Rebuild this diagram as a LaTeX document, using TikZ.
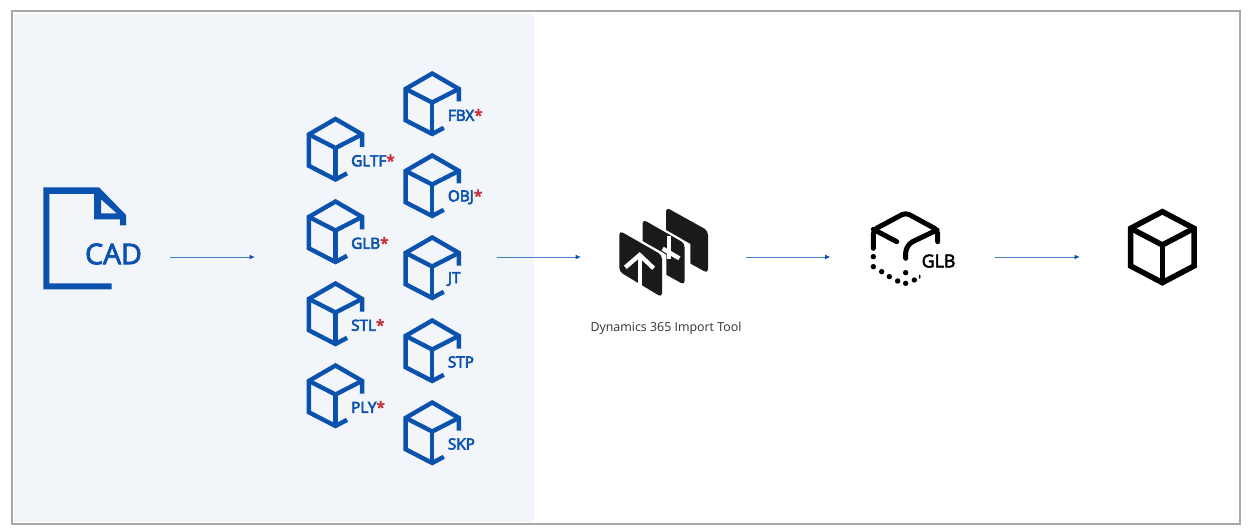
\documentclass[tikz,border=0pt]{standalone}
\usepackage{fontspec}
\setmainfont{Open Sans}
\newfontfamily\semib[FakeBold=4]{Open Sans}
\newfontfamily\semic[FakeBold=3]{Open Sans}
\definecolor{msblue}{HTML}{0A52AE}
\definecolor{starred}{HTML}{C8323C}
\definecolor{panelbg}{HTML}{F2F6FB}
\definecolor{framegray}{HTML}{AAA6A6}
\definecolor{icondark}{HTML}{1A1A1A}
\usetikzlibrary{arrows.meta}
\tikzset{
  flow/.style={draw=msblue!75!white,line width=1pt,-{Latex[length=5.5pt,width=5pt,fill=msblue,color=msblue]}},
  fmt/.style={anchor=west,inner sep=0pt,text=msblue,font=\semib\fontsize{15.3}{15.3}\selectfont},
  pics/box3d/.style={code={
    \draw[msblue,line width=4.4pt,line join=miter]
      (11.6,54.3)--(0,60.5)--(-26.6,46.8)--(-26.6,15.4)--(0,0)--(26.6,15.4)--(26.6,28);
    \draw[msblue,line width=4.4pt,line join=miter]
      (-26.6,15.4)--(0,29)--(26.6,15.4);
    \draw[msblue,line width=4.4pt] (0,29)--(0,60);
  }},
}
\begin{document}
\begin{tikzpicture}[x=1pt,y=-1pt]
\useasboundingbox (0,0) rectangle (1249,529);
\fill[white] (0,0) rectangle (1249,529);
\fill[panelbg] (14,14) rectangle (534,522);
\draw[framegray,line width=2pt] (12,11) rectangle (1240,524);

% CAD document
\fill[msblue,even odd rule]
  (43.3,187.3)--(99,187.3)--(126,215)--(126,225.5)--(120,225.5)--(120,219.3)--(94,219.3)--(94,194)
  --(49.3,194)--(49.3,283.3)--(111.7,283.3)--(111.7,289.3)--(43.3,289.3)--cycle
  (101,199.3)--(101,213.3)--(116.7,213.3)--cycle;
\node[inner sep=0pt,text=msblue,font=\semic\fontsize{28.5}{28.5}\selectfont] (cad) at (113.5,254) {CAD};

% format cubes
\foreach \nm/\cx/\ty/\lab/\st in {
  fbx/432.2/73.5/FBX/1, obj/432.2/155.5/OBJ/1, jt/432.2/237.5/JT/0, stp/432.2/320.5/STP/0, skp/432.2/402.5/SKP/0,
  gltf/335.5/119/GLTF/1, glb/335.5/201.5/GLB/1, stl/335.5/283.5/STL/1, ply/335.5/365.5/PLY/1}{
  \pic at (\cx,\ty) {box3d};
  \node[fmt] (\nm) at (\cx+15.5,\ty+41.5) {\lab\ifnum\st=1 \textcolor{starred}{*}\fi};
}

% import tool icon
\begin{scope}[shift={(612,200)},x=0.3333pt,y=-0.3333pt]
  \path[fill=icondark,rounded corners=4pt] (162,22)--(288,92)--(288,220)--(162,150)--cycle;
  \fill[white] (85,46)--(235,132)--(235,275)--(85,195)--cycle;
  \path[fill=icondark,rounded corners=4pt] (92,58)--(218,130)--(218,255)--(92,185)--cycle;
  \draw[white,line width=4.3pt] (172,108)--(172,178);
  \draw[white,line width=4.3pt] (152,146)--(202,175);
  \fill[white] (15,80)--(163,164)--(163,305)--(15,225)--cycle;
  \path[fill=icondark,rounded corners=4pt] (22,92)--(150,165)--(150,292)--(22,215)--cycle;
  \draw[white,line width=4.3pt] (84,172)--(84,272);
  \draw[white,line width=4.3pt,line join=miter] (40,202)--(83,165)--(125,205);
\end{scope}
\node[inner sep=0pt,text=black!80,font=\fontsize{12.4}{12.4}\selectfont] (tool) at (666,328) {Dynamics 365 Import Tool};

% GLB icon
\begin{scope}[shift={(855,200)},x=0.3333pt,y=-0.3333pt]
  \draw[black,line width=5pt,line cap=round,line join=round,rounded corners=4pt]
    (55,145)--(55,90)--(152,38)--(248,90)--(248,125);
  \draw[black,line width=5pt,line cap=round] (55,88)--(125,125);
  \draw[black,line width=5pt,line cap=round,line join=round,rounded corners=8pt] (152,175)--(152,135)--(246,90);
  \foreach \dx/\dy in {55/170,55/200,80/215,103/230,128/243,152/250,178/240,152/218}
    \fill[black] (\dx,\dy) circle (2.7pt);
  \fill[black] (194,230) ellipse (0.9pt and 2pt);
\end{scope}
\node[anchor=west,inner sep=0pt,font=\semic\fontsize{17.8}{17.8}\selectfont] (glblabel) at (921.5,261) {GLB};

% final cube
\begin{scope}[shift={(1110,200)},x=0.3333pt,y=-0.3333pt]
  \draw[black,line width=5.5pt,line join=miter]
    (157,35)--(252,85)--(252,198)--(157,248)--(62,198)--(62,85)--cycle;
  \draw[black,line width=5.5pt,line join=miter] (62,85)--(157,135)--(252,85);
  \draw[black,line width=5.5pt] (157,135)--(157,248);
\end{scope}

% connectors
\coordinate (a1) at (170,257); \coordinate (b1) at (255,257);
\coordinate (a2) at (496.5,257); \coordinate (b2) at (581,257);
\coordinate (a3) at (745.5,257); \coordinate (b3) at (830.5,257);
\coordinate (a4) at (995,257); \coordinate (b4) at (1080,257);
\draw[flow] (a1)--(b1);
\draw[flow] (a2)--(b2);
\draw[flow] (a3)--(b3);
\draw[flow] (a4)--(b4);
\end{tikzpicture}
\end{document}
